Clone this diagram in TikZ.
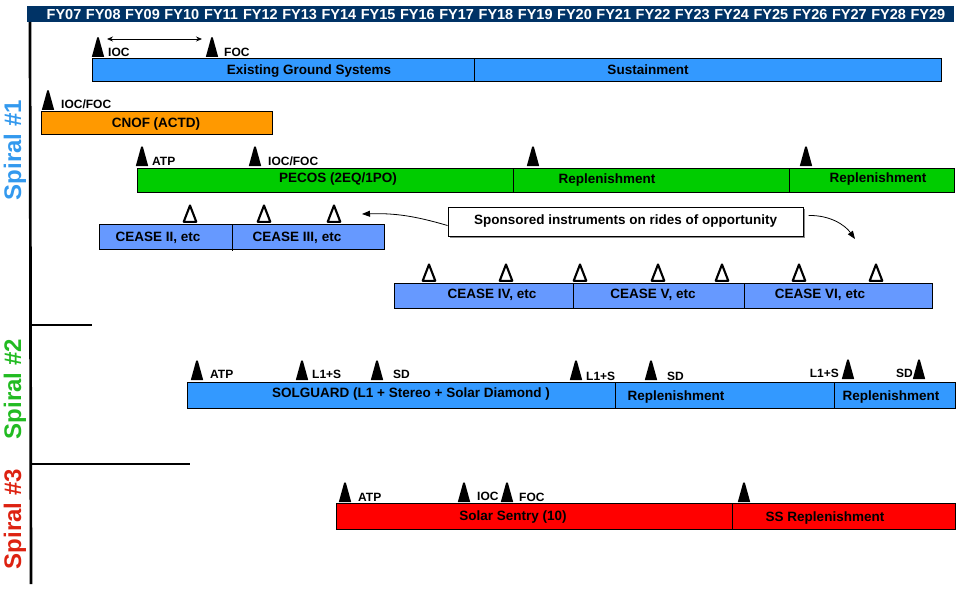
\documentclass[tikz,border=0pt]{standalone}
\usepackage{fontspec}
\setmainfont{Liberation Sans}
\usetikzlibrary{arrows.meta}
\definecolor{hdr}{HTML}{003366}
\definecolor{sky}{HTML}{3399FF}
\definecolor{orng}{HTML}{FF9900}
\definecolor{grn}{HTML}{00CC00}
\definecolor{peri}{HTML}{6699FF}
\definecolor{rd}{HTML}{FF0000}
\definecolor{spA}{HTML}{3399EE}
\definecolor{spB}{HTML}{22BB22}
\definecolor{spC}{HTML}{DD2211}
\tikzset{
  barbox/.style={draw=black, line width=1pt},
  divider/.style={draw=black, line width=0.8pt},
  fylab/.style={text=white, inner sep=0, font=\fontsize{14.5}{16}\selectfont\bfseries},
  blab/.style={inner sep=0, font=\fontsize{13.5}{15}\selectfont\bfseries},
  mlab/.style={inner sep=0, anchor=west, font=\fontsize{12}{13}\selectfont\bfseries},
  mlabr/.style={inner sep=0, anchor=east, font=\fontsize{12}{13}\selectfont\bfseries},
  spiral/.style={rotate=90, inner sep=0, font=\fontsize{24}{26}\selectfont\bfseries},
  ftri/.pic={\fill[black] (-6.2,0) -- (-0.8,-19.5) -- (0.8,-19.5) -- (6.2,0) -- cycle;},
  otri/.pic={\draw[black, line width=2.1pt, line join=round] (-6.3,-1.2) -- (0,-17.5) -- (6.3,-1.2) -- cycle;},
  axis/.style={line width=2.7pt, draw=black},
  callarrow/.style={line width=0.8pt, -{Triangle[length=8pt,width=6pt]}},
}
\begin{document}
\begin{tikzpicture}[x=1pt, y=-1pt]
\useasboundingbox (0,0) rectangle (962,594);
% header
\fill[hdr] (27,6) rectangle (954,22);
\foreach [count=\k from 0] \t in {07,08,09,10,11,12,13,14,15,16,17,18,19,20,21,22,23,24,25,26,27,28,29}
  {\node[fylab] (fy\t) at ({64+39.27*\k},14.5) {FY\t};}
% axis and separators
\draw[axis] (30,22) -- (31,584);
\draw[axis] (30,325) -- (92,325);
\draw[axis] (31,464) -- (190,464);
\node[spiral, text=spA] (s1) at (15,150) {Spiral \#1};
\node[spiral, text=spB] (s2) at (15,389) {Spiral \#2};
\node[spiral, text=spC] (s3) at (15,519) {Spiral \#3};

% Existing ground systems
\draw[barbox, fill=sky] (92,59) rectangle (941,82);
\draw[divider] (474,59) -- (474,82);
\node[blab] (egs) at (309,71) {Existing Ground Systems};
\node[blab] (sus) at (648,70) {Sustainment};
\pic at (98,57) {ftri};
\pic at (212,57) {ftri};
\node[mlab] (ioc1) at (108,52.5) {IOC};
\node[mlab] (foc1) at (224,52.5) {FOC};
\coordinate (da) at (107,39);
\coordinate (db) at (202,39);
\draw[line width=0.8pt, {Stealth[length=6pt,width=5pt]}-{Stealth[length=6pt,width=5pt]}] (da) -- (db);

% CNOF
\draw[barbox, fill=orng] (41,112) rectangle (272,134);
\node[blab] (cnof) at (156,124) {CNOF (ACTD)};
\pic at (48,110) {ftri};
\node[mlab] (iocfoc1) at (61,104.5) {IOC/FOC};

% PECOS
\draw[barbox, fill=grn] (137,168) rectangle (954,192);
\draw[divider] (513,168) -- (513,192);
\draw[divider] (789,168) -- (789,192);
\node[blab] (pecos) at (338,179) {PECOS (2EQ/1PO)};
\node[blab] (rep1) at (607,180) {Replenishment};
\node[blab] (rep2) at (878,179) {Replenishment};
\foreach \x in {142,255,533,806} {\pic at (\x,166) {ftri};}
\node[mlab] (atp1) at (152,161) {ATP};
\node[mlab] (iocfoc2) at (268,161) {IOC/FOC};

% CEASE II / III
\draw[barbox, fill=peri] (99,224) rectangle (384,249);
\draw[divider] (232,224) -- (232,251);
\node[blab] (c2) at (158,238) {CEASE II, etc};
\node[blab] (c3) at (297,238) {CEASE III, etc};
\foreach \x in {190,264,334} {\pic at (\x,223) {otri};}

% sponsored box
\fill[black!45] (450,209) rectangle (805,238);
\node[draw=black, line width=1pt, fill=white, minimum width=355pt, minimum height=29pt, inner sep=0,
      font=\fontsize{13.5}{15}\selectfont\bfseries] (spons) at (625.5,221.5) {Sponsored instruments on rides of opportunity};
\coordinate (la) at (362,214);
\coordinate (ra) at (855,239);
\draw[callarrow] ([yshift=-4pt]spons.west) .. controls (415,216) and (395,213) .. (la);
\draw[callarrow] ([xshift=5pt,yshift=6pt]spons.east) .. controls (830,215) and (845,225) .. (ra);

% CEASE IV / V / VI
\draw[barbox, fill=peri] (394,283) rectangle (932,308);
\draw[divider] (573,283) -- (573,308);
\draw[divider] (744,283) -- (744,308);
\node[blab] (c4) at (492,295) {CEASE IV, etc};
\node[blab] (c5) at (653,295) {CEASE V, etc};
\node[blab] (c6) at (820,295) {CEASE VI, etc};
\foreach \x in {429,506,580,658,722,799,876} {\pic at (\x,282) {otri};}

% SOLGUARD
\draw[barbox, fill=sky] (187,382) rectangle (955,408);
\draw[divider] (615,382) -- (615,408);
\draw[divider] (834,382) -- (834,408);
\node[blab] (solg) at (411,394) {SOLGUARD (L1 + Stereo + Solar Diamond )};
\node[blab] (rep3) at (676,397) {Replenishment};
\node[blab] (rep4) at (891,397) {Replenishment};
\foreach \x in {197,302,377,576,651} {\pic at (\x,380) {ftri};}
\foreach \x in {848,919} {\pic at (\x,379) {ftri};}
\node[mlab] (atp2) at (210,374.5) {ATP};
\node[mlab] (l1s1) at (312,374.5) {L1+S};
\node[mlab] (sd1) at (393,374.5) {SD};
\node[mlab] (l1s2) at (586,376) {L1+S};
\node[mlab] (sd2) at (667,376) {SD};
\node[mlabr] (l1s3) at (839,373) {L1+S};
\node[mlabr] (sd3) at (913,373) {SD};

% Solar Sentry
\draw[barbox, fill=rd] (336,503) rectangle (955,529);
\draw[divider] (732,503) -- (732,529);
\node[blab] (ss) at (513,517) {Solar Sentry (10)};
\node[blab] (ssr) at (825,518) {SS Replenishment};
\foreach \x in {345,464,507,744} {\pic at (\x,502) {ftri};}
\node[mlab] (atp3) at (358,497) {ATP};
\node[mlab] (ioc3) at (477,496.5) {IOC};
\node[mlab] (foc3) at (519,497) {FOC};
\end{tikzpicture}
\end{document}
